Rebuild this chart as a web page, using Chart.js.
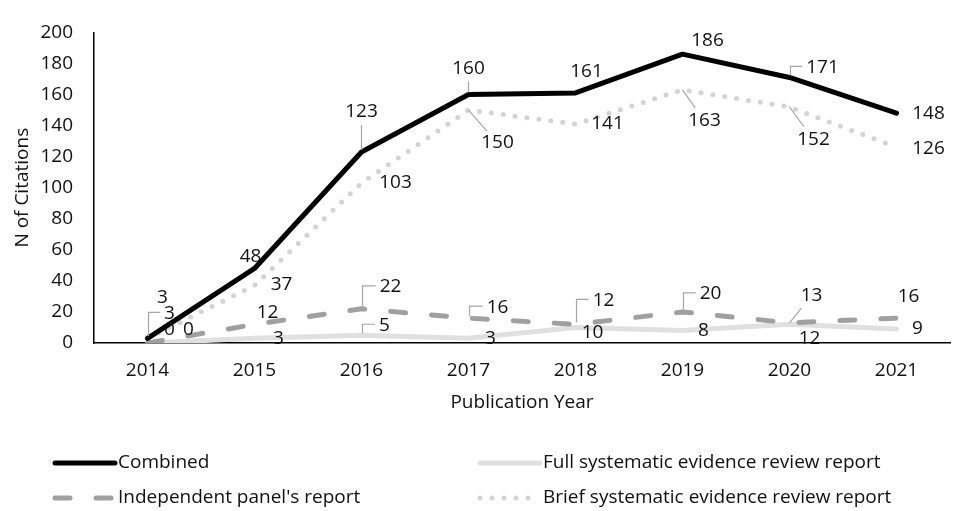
<!DOCTYPE html>
<html>
<head>
<meta charset="utf-8">
<script src="https://cdn.jsdelivr.net/npm/chart.js@4.4.0/dist/chart.umd.min.js"></script>
<style>
  html, body { margin: 0; padding: 0; background: #fff; }
  canvas { display: block; }
</style>
</head>
<body>
<canvas id="myChart" width="956" height="511"></canvas>
<script>
// data
var years = ['2014', '2015', '2016', '2017', '2018', '2019', '2020', '2021'];
var combined = [3, 48, 123, 160, 161, 186, 171, 148];
var independent = [0, 12, 22, 16, 12, 20, 13, 16];
var fullReport = [0, 3, 5, 3, 10, 8, 12, 9];
var briefReport = [3, 37, 103, 150, 141, 163, 152, 126];

var FONT = '"Open Sans", "Noto Sans", sans-serif';
var FSIZE = 19;

// label placement (offset from the point) + leader line kind, per dataset
var labelOffsets = [
	[[15,-41],[-4,-12],[0,-40],[0,-26],[11,-21],[25,-14],[33,-10],[32,0]],
	[[22,-13],[13,-12],[29,-22],[29,-11],[28,-24],[28,-18],[22,-27],[12,-22]],
	[[41,-13],[24,0],[23,-10],[22,0],[17,5],[21,0],[20,14],[21,0]],
	[[22,-25],[27,-1],[34,0],[29,33],[32,0],[22,31],[24,33],[32,1]]
];
var leaders = [
	[null,null,'v','v',null,null,'elbow',null],
	[null,null,'elbow','elbow','elbow','elbow','diag',null],
	[null,null,'elbow',null,null,null,null,null],
	['elbow',null,null,'diag',null,'diag','diag',null]
];

var pointLabels = { //데이터 라벨
	id: 'pointLabels',
	afterDatasetsDraw: function(chart) {
		var ctx = chart.ctx;
		ctx.save();
		ctx.font = FSIZE + 'px ' + FONT;
		ctx.textAlign = 'center';
		ctx.textBaseline = 'middle';
		chart.data.datasets.forEach(function(ds, i) {
			var meta = chart.getDatasetMeta(i);
			meta.data.forEach(function(pt, j) {
				var txt = String(ds.data[j]);
				var lx = pt.x + labelOffsets[i][j][0];
				var ly = pt.y + labelOffsets[i][j][1];
				var w = ctx.measureText(txt).width;
				var kind = leaders[i][j];
				if (kind) {
					ctx.strokeStyle = '#a6a6a6';
					ctx.lineWidth = 1.2;
					ctx.beginPath();
					if (kind === 'v') {
						ctx.moveTo(pt.x, pt.y - 2);
						ctx.lineTo(lx, ly + 13);
					} else if (kind === 'elbow') {
						ctx.moveTo(pt.x + 1, pt.y - 2);
						ctx.lineTo(pt.x + 1, ly - 1);
						ctx.lineTo(lx - w / 2 - 4, ly - 1);
					} else {
						var dx = lx - pt.x, dy = ly - pt.y;
						var d = Math.sqrt(dx * dx + dy * dy);
						var stop = (d - 16) / d;
						ctx.moveTo(pt.x, pt.y);
						ctx.lineTo(pt.x + dx * stop, pt.y + dy * stop);
					}
					ctx.stroke();
				}
				ctx.fillStyle = '#111';
				ctx.fillText(txt, lx, ly);
			});
		});
		ctx.restore();
	}
};

var legendRows = [[0, 55, 463], [2, 480, 463], [1, 55, 498], [3, 480, 498]];

var drawLegend = { //범례
	id: 'drawLegend',
	afterDraw: function(chart) {
		var ctx = chart.ctx;
		ctx.save();
		legendRows.forEach(function(r) {
			var ds = chart.data.datasets[r[0]];
			ctx.strokeStyle = ds.borderColor;
			ctx.lineWidth = ds.borderWidth;
			ctx.lineCap = ds.borderCapStyle || 'butt';
			ctx.setLineDash(ds.borderDash || []);
			ctx.beginPath();
			ctx.moveTo(r[1], r[2]);
			ctx.lineTo(r[1] + 60, r[2]);
			ctx.stroke();
			ctx.setLineDash([]);
			ctx.fillStyle = '#111';
			ctx.font = FSIZE + 'px ' + FONT;
			ctx.textAlign = 'left';
			ctx.textBaseline = 'middle';
			ctx.fillText(ds.label, r[1] + 63, r[2]);
		});
		ctx.restore();
	}
};

var ctx = document.getElementById('myChart').getContext('2d');
var myChart = new Chart(ctx, {
	type: 'line',
	data: {
		labels: years,
		datasets: [{
			label: 'Combined',
			data: combined,
			borderColor: '#000000',
			borderWidth: 5,
			borderCapStyle: 'round',
			borderJoinStyle: 'round'
		}, {
			label: "Independent panel's report",
			data: independent,
			borderColor: '#a0a0a0',
			borderWidth: 5,
			borderDash: [15, 26],
			borderCapStyle: 'round',
			borderJoinStyle: 'round'
		}, {
			label: 'Full systematic evidence review report',
			data: fullReport,
			borderColor: '#e0e0e0',
			borderWidth: 5,
			borderCapStyle: 'round',
			borderJoinStyle: 'round'
		}, {
			label: 'Brief systematic evidence review report',
			data: briefReport,
			borderColor: '#d4d4d4',
			borderWidth: 5,
			borderDash: [0, 12],
			borderCapStyle: 'round',
			borderJoinStyle: 'round'
		}]
	},
	options: {
		responsive: false,
		animation: false,
		elements: {
			line: { tension: 0, fill: false },
			point: { radius: 0, hoverRadius: 0 }
		},
		layout: {
			padding: { left: 0, right: 6, top: 24, bottom: 97 }
		},
		plugins: {
			legend: { display: false },
			tooltip: { enabled: false }
		},
		scales: {
			x: {
				offset: true,
				grid: { display: false, drawTicks: false },
				border: { display: true, color: '#000', width: 1.5 },
				ticks: { color: '#111', padding: 16, font: { family: FONT, size: FSIZE } },
				title: {
					display: true,
					text: 'Publication Year',
					color: '#111',
					font: { family: FONT, size: FSIZE },
					padding: { top: 0, bottom: 0 }
				},
				afterFit: function(scale) { scale.height = 71; }
			},
			y: {
				min: 0,
				max: 200,
				grid: { display: false, drawTicks: false },
				border: { display: true, color: '#000', width: 1.5 },
				ticks: { stepSize: 20, color: '#111', padding: 21, font: { family: FONT, size: FSIZE } },
				title: {
					display: true,
					text: 'N of Citations',
					color: '#111',
					font: { family: FONT, size: FSIZE },
					padding: { top: 11, bottom: 0 }
				},
				afterFit: function(scale) { scale.width = 94; }
			}
		}
	},
	plugins: [pointLabels, drawLegend]
});
</script>
</body>
</html>
